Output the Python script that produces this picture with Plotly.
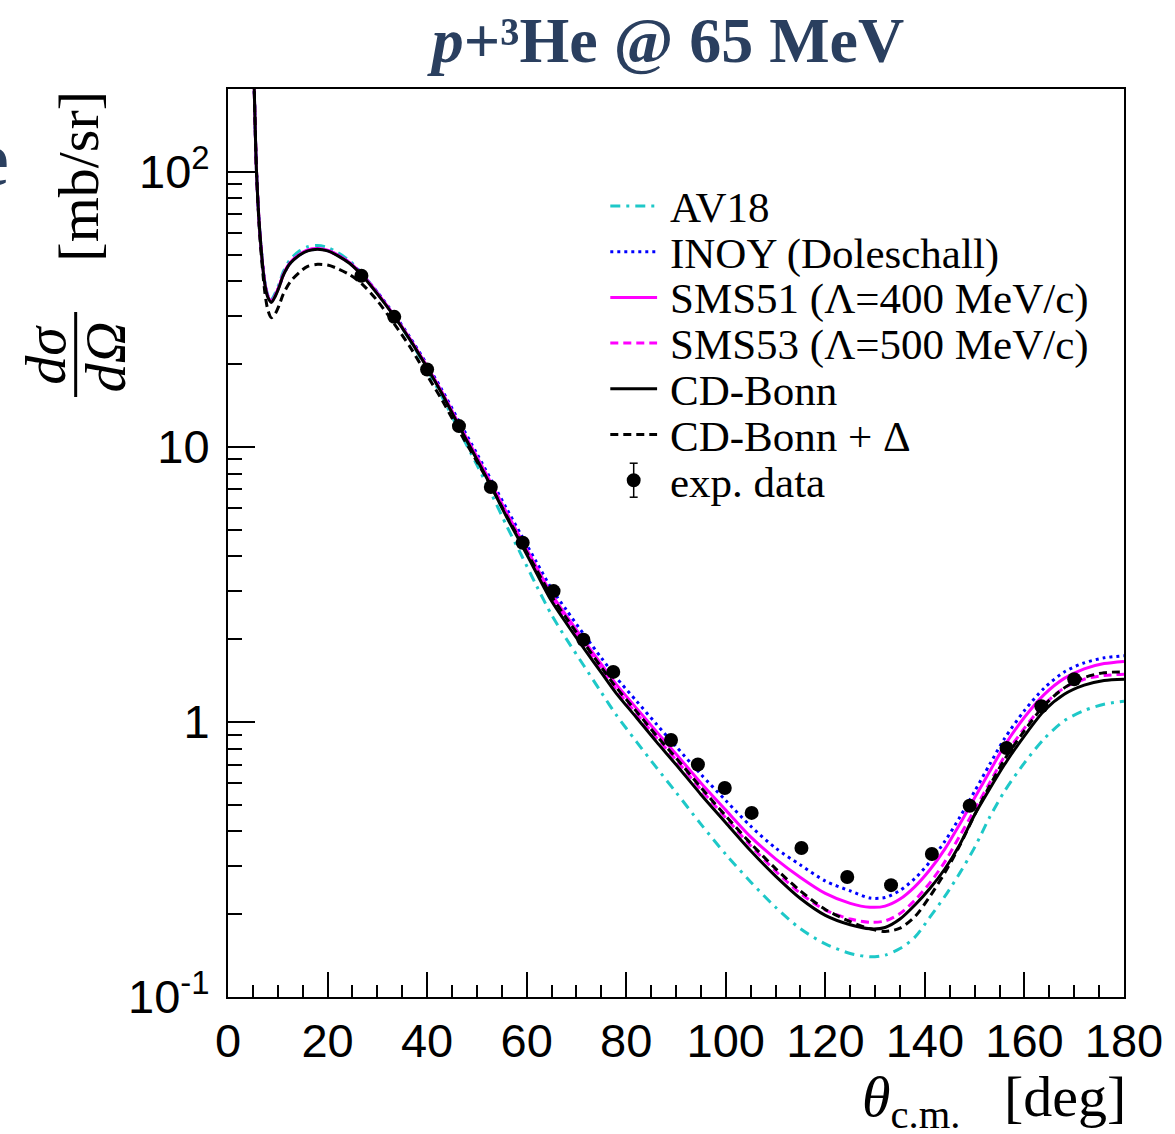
import plotly.graph_objects as go

# ---------------- data ----------------
theta = [4.8, 5.27, 5.73, 6.4, 7.4, 8.0, 8.7, 9.5, 10.3, 11.1,
         12.5, 14.4, 16, 18, 20, 22, 24.4, 27, 30, 33.4,
         36.5, 40, 43, 46.4, 50, 53, 56, 59, 62, 65,
         68, 71.5, 75, 78, 82, 86, 90, 95, 100, 105,
         110, 115, 120, 125, 129, 132, 135, 138, 141, 144,
         147, 150, 153, 156, 160, 164, 168, 172, 176, 180]

av18 = [420, 200, 100, 60.5, 39.8, 35.8, 34.3, 36.3, 39.3, 43.3,
        48.0, 51.6, 53.4, 54.0, 53.1, 50.9, 47.5, 42.6, 36.4, 29.9,
        24.5, 19.1, 15.2, 11.5, 8.6, 6.7, 5.15, 4.02, 3.12, 2.45,
        2.0, 1.6, 1.28, 1.06, 0.85, 0.685, 0.555, 0.425, 0.33, 0.262,
        0.212, 0.177, 0.156, 0.144, 0.140, 0.142, 0.150, 0.165, 0.195, 0.232,
        0.282, 0.35, 0.45, 0.56, 0.71, 0.87, 1.01, 1.10, 1.16, 1.19]

inoy = [420, 200, 100, 60, 39.5, 35.5, 34.0, 35.6, 38.4, 42.1,
        46.5, 49.9, 51.7, 52.3, 51.7, 49.8, 46.8, 42.3, 36.5, 30.3,
        25.1, 19.9, 16.1, 12.4, 9.45, 7.5, 5.95, 4.75, 3.8, 3.05,
        2.55, 2.08, 1.71, 1.45, 1.195, 0.985, 0.815, 0.645, 0.518, 0.418,
        0.348, 0.302, 0.264, 0.243, 0.229, 0.230, 0.244, 0.27, 0.31, 0.368,
        0.45, 0.56, 0.70, 0.87, 1.10, 1.33, 1.52, 1.64, 1.71, 1.74]

sms51 = [420, 200, 100, 60, 39.3, 35.3, 33.8, 35.6, 38.5, 42.3,
         46.8, 50.2, 52.0, 52.6, 51.9, 49.9, 46.8, 42.2, 36.3, 30.0,
         24.8, 19.6, 15.8, 12.1, 9.2, 7.3, 5.75, 4.58, 3.65, 2.92,
         2.43, 1.98, 1.62, 1.37, 1.125, 0.925, 0.765, 0.60, 0.478, 0.382,
         0.318, 0.272, 0.238, 0.219, 0.212, 0.214, 0.227, 0.252, 0.29, 0.345,
         0.425, 0.53, 0.66, 0.82, 1.04, 1.26, 1.44, 1.56, 1.63, 1.66]

sms53 = [420, 200, 100, 60, 39.2, 35.2, 33.7, 35.5, 38.4, 42.2,
         46.7, 50.0, 51.8, 52.4, 51.7, 49.7, 46.6, 42.0, 36.1, 29.9,
         24.7, 19.5, 15.7, 12.0, 9.1, 7.2, 5.65, 4.48, 3.55, 2.83,
         2.35, 1.91, 1.56, 1.31, 1.075, 0.88, 0.728, 0.568, 0.448, 0.355,
         0.287, 0.238, 0.207, 0.192, 0.187, 0.189, 0.201, 0.225, 0.26, 0.31,
         0.385, 0.48, 0.60, 0.75, 0.95, 1.16, 1.33, 1.43, 1.475, 1.49]

cdbonn = [420, 200, 100, 60, 39, 35, 33.5, 35.3, 38.2, 42.0,
          46.5, 49.8, 51.6, 52.3, 51.6, 49.6, 46.5, 41.9, 36.0, 29.8,
          24.6, 19.4, 15.6, 11.9, 9.0, 7.1, 5.55, 4.4, 3.47, 2.75,
          2.28, 1.85, 1.51, 1.27, 1.04, 0.85, 0.70, 0.545, 0.43, 0.34,
          0.275, 0.228, 0.198, 0.183, 0.177, 0.179, 0.192, 0.216, 0.248, 0.292,
          0.358, 0.46, 0.57, 0.70, 0.89, 1.10, 1.26, 1.36, 1.415, 1.43]

cdbonn_delta = [420, 200, 100, 58, 36.5, 31.5, 29.5, 30.5, 32.8, 35.9,
                39.8, 43.2, 45.3, 46.1, 45.8, 44.5, 42.3, 39.0, 34.0, 28.0,
                23.2, 18.2, 14.8, 11.45, 8.85, 7.1, 5.6, 4.47, 3.57, 2.86,
                2.38, 1.94, 1.58, 1.335, 1.095, 0.895, 0.74, 0.578, 0.455, 0.362,
                0.293, 0.243, 0.208, 0.188, 0.177, 0.173, 0.178, 0.196, 0.232, 0.283,
                0.355, 0.46, 0.585, 0.73, 0.93, 1.15, 1.33, 1.45, 1.51, 1.52]

exp_theta = [26.8, 33.4, 40.0, 46.4, 52.8, 59.2, 65.4, 71.4, 77.4, 89.0,
             94.4, 99.8, 105.2, 115.2, 124.4, 133.2, 141.4, 149.0, 156.4, 163.4, 170.0]
exp_xs = [41.9, 29.7, 19.1, 11.9, 7.15, 4.48, 2.99, 1.99, 1.52, 0.86,
          0.70, 0.575, 0.467, 0.348, 0.273, 0.255, 0.331, 0.496, 0.804, 1.14, 1.43]

x_ticks = [0, 20, 40, 60, 80, 100, 120, 140, 160, 180]
y_ticks = [0.1, 1, 10, 100]
y_ticktext = ["10<sup>-1</sup>", "1", "10", "10<sup>2</sup>"]
y_minor = [0.2, 0.3, 0.4, 0.5, 0.6, 0.7, 0.8, 0.9,
           2, 3, 4, 5, 6, 7, 8, 9,
           20, 30, 40, 50, 60, 70, 80, 90, 200]

for arr in (av18, inoy, sms51, sms53, cdbonn, cdbonn_delta):
    assert len(arr) == len(theta)

# ---------------- figure ----------------
W, H = 1175, 1134
L, R, T, B = 228, 47, 89, 137
PW, PH = W - L - R, H - T - B


def px(x):
    return (x - L) / PW


def py(y):
    return (H - B - y) / PH


SERIF = "Liberation Serif"
SANS = "Liberation Sans"

fig = go.Figure()

curves = [
    ("AV18", av18, "#1ec8c8", "10px,6px,3px,6px"),
    ("INOY (Doleschall)", inoy, "#0000ff", "3px,4px"),
    ("SMS51 (\u039b=400 MeV/c)", sms51, "#ff00ff", "solid"),
    ("SMS53 (\u039b=500 MeV/c)", sms53, "#ff00ff", "8px,5px"),
    ("CD-Bonn", cdbonn, "#000000", "solid"),
    ("CD-Bonn + \u0394", cdbonn_delta, "#000000", "8px,5px"),
]
for name, yv, col, dash in curves:
    fig.add_trace(go.Scatter(
        x=theta, y=yv, mode="lines", name=name, showlegend=False,
        line=dict(color=col, width=3, dash=dash, shape="spline", smoothing=0.8),
    ))

fig.add_trace(go.Scatter(
    x=exp_theta, y=exp_xs, mode="markers", name="exp. data", showlegend=False,
    marker=dict(color="black", size=14, symbol="circle"),
))

fig.update_layout(
    width=W, height=H, autosize=False,
    margin=dict(l=L, r=R, t=T, b=B),
    paper_bgcolor="white", plot_bgcolor="white",
    showlegend=False,
    title=dict(
        text="<b><i>p</i>+\u00b3He @ 65 MeV</b>",
        x=px(670), xref="paper", xanchor="center",
        y=1 - 40 / H, yref="container", yanchor="middle",
        font=dict(family=SERIF, size=64, color="#2a3f5f"),
    ),
)

fig.update_xaxes(
    range=[0, 180], showgrid=False, zeroline=False,
    showline=True, mirror=True, linecolor="black", linewidth=2,
    tickmode="array", tickvals=x_ticks,
    ticks="inside", ticklen=25, tickwidth=1.5, tickcolor="black",
    ticklabelstandoff=2,
    tickfont=dict(family=SANS, size=47, color="black"),
    minor=dict(dtick=5, tick0=0, ticks="inside", ticklen=12, tickwidth=1.5,
               tickcolor="black", showgrid=False),
)

fig.update_yaxes(
    type="log", range=[-1, 2.30103], showgrid=False, zeroline=False,
    showline=True, mirror=True, linecolor="black", linewidth=2,
    tickmode="array", tickvals=y_ticks, ticktext=y_ticktext,
    ticks="inside", ticklen=27, tickwidth=1.5, tickcolor="black",
    ticklabelstandoff=7,
    tickfont=dict(family=SANS, size=47, color="black"),
    minor=dict(tickmode="array", tickvals=y_minor, ticks="inside", ticklen=14,
               tickwidth=1.5, tickcolor="black", showgrid=False),
)

# ---------------- legend (drawn manually) ----------------
leg_y0, leg_dy = 206, 45.7
leg_x_sym0, leg_x_sym1, leg_x_text = 612, 659, 670
for i, (name, _, col, dash) in enumerate(curves):
    yy = leg_y0 + i * leg_dy
    fig.add_shape(type="line", xref="paper", yref="paper",
                  x0=px(leg_x_sym0), x1=px(leg_x_sym1), y0=py(yy), y1=py(yy),
                  line=dict(color=col, width=3, dash=dash))
    fig.add_annotation(text=name, xref="paper", yref="paper",
                       x=px(leg_x_text), y=py(yy + 2), xanchor="left", yanchor="middle",
                       showarrow=False, font=dict(family=SERIF, size=43, color="black"))
yy = leg_y0 + len(curves) * leg_dy
xc = (leg_x_sym0 + leg_x_sym1) / 2
fig.add_shape(type="line", xref="paper", yref="paper",
              x0=px(xc), x1=px(xc), y0=py(yy - 17), y1=py(yy + 17),
              line=dict(color="black", width=1.5))
for dy in (-17, 17):
    fig.add_shape(type="line", xref="paper", yref="paper",
                  x0=px(xc - 4), x1=px(xc + 4), y0=py(yy + dy), y1=py(yy + dy),
                  line=dict(color="black", width=1.5))
fig.add_shape(type="circle", xref="paper", yref="paper",
              x0=px(xc - 7), x1=px(xc + 7), y0=py(yy - 7), y1=py(yy + 7),
              fillcolor="black", line=dict(color="black", width=0))
fig.add_annotation(text="exp. data", xref="paper", yref="paper",
                   x=px(leg_x_text), y=py(yy + 2), xanchor="left", yanchor="middle",
                   showarrow=False, font=dict(family=SERIF, size=43, color="black"))

# ---------------- axis titles ----------------
fig.add_annotation(text="<i>d\u03c3</i>", xref="paper", yref="paper",
                   x=px(45), y=py(355), xanchor="center", yanchor="middle",
                   textangle=-90, showarrow=False,
                   font=dict(family=SERIF, size=58, color="black"))
fig.add_annotation(text="<i>d\u03a9</i>", xref="paper", yref="paper",
                   x=px(105), y=py(357), xanchor="center", yanchor="middle",
                   textangle=-90, showarrow=False,
                   font=dict(family=SERIF, size=58, color="black"))
fig.add_shape(type="line", xref="paper", yref="paper",
              x0=px(75), x1=px(75), y0=py(397), y1=py(312),
              line=dict(color="black", width=3))
fig.add_annotation(text="[mb/sr]", xref="paper", yref="paper",
                   x=px(77), y=py(176), xanchor="center", yanchor="middle",
                   textangle=-90, showarrow=False,
                   font=dict(family=SERIF, size=58, color="black"))

fig.add_annotation(text="<i>\u03b8</i><sub>c.m.</sub>\u00a0\u00a0\u00a0[deg]",
                   xref="paper", yref="paper",
                   x=px(1132), y=py(1100), xanchor="right", yanchor="middle",
                   showarrow=False,
                   font=dict(family=SERIF, size=58, color="black"))

# cropped glyph at left edge
fig.add_annotation(text="<b>e</b>", xref="paper", yref="paper",
                   x=px(10), y=py(158), xanchor="right", yanchor="middle",
                   showarrow=False,
                   font=dict(family=SERIF, size=78, color="#2a3f5f"))

fig.write_html("out.html",
               config={"displayModeBar": False},
               post_script="document.body.style.margin='0px';document.body.style.overflow='hidden';")
